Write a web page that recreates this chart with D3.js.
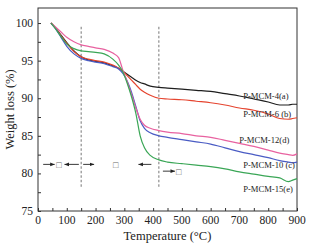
<!DOCTYPE html>
<html>
<head>
<meta charset="utf-8">
<script src="https://cdn.jsdelivr.net/npm/d3@7"></script>
<style>
  body { margin: 0; background: #fff; }
  svg text { font-family: "Liberation Serif", "Times New Roman", serif; fill: #222; }
</style>
</head>
<body>
<div id="chart"></div>
<script>
// 溫度 (°C)
const temps = [45, 60, 80, 100, 125, 150, 175, 200, 230, 260, 280, 295, 310, 325, 340, 355, 370, 390, 420, 450, 500, 550, 600, 650, 700, 750, 800, 840, 870, 885, 900];

// 各樣品失重曲線 (%)
const lossA = [100, 99.4, 98.4, 97.4, 96.3, 95.5, 95.1, 94.9, 94.7, 94.3, 94.0, 93.6, 93.2, 92.8, 92.4, 92.1, 91.9, 91.6, 91.45, 91.35, 91.2, 91.05, 90.9, 90.6, 90.3, 89.9, 89.5, 89.1, 89.1, 89.2, 89.2];
const lossB = [100, 99.4, 98.3, 97.3, 96.2, 95.5, 95.2, 95.0, 94.8, 94.4, 94.0, 93.6, 93.0, 92.4, 91.8, 91.2, 90.8, 90.4, 90.0, 89.9, 89.8, 89.6, 89.4, 89.1, 88.7, 88.4, 87.9, 87.3, 87.2, 87.3, 87.4];
const lossC = [100, 99.3, 98.1, 96.9, 95.9, 95.3, 95.0, 94.8, 94.6, 94.2, 93.9, 93.3, 92.3, 90.8, 88.9, 87.0, 86.0, 85.4, 85.0, 84.8, 84.5, 84.2, 83.9, 83.4, 82.9, 82.5, 82.1, 81.7, 81.5, 81.4, 81.5];
const lossD = [100, 99.5, 98.8, 98.1, 97.5, 97.1, 96.9, 96.7, 96.5, 96.0, 95.4, 93.7, 92.2, 90.5, 88.7, 87.2, 86.4, 86.0, 85.7, 85.5, 85.3, 85.0, 84.8, 84.4, 84.0, 83.6, 83.1, 82.7, 82.5, 82.4, 82.6];
const lossE = [100, 99.3, 98.2, 97.2, 96.6, 96.3, 96.2, 96.1, 95.9, 95.2, 94.4, 93.5, 92.0, 90.2, 88.0, 85.0, 83.4, 82.4, 81.8, 81.5, 81.3, 81.1, 80.9, 80.6, 80.2, 79.9, 79.6, 79.4, 78.9, 79.1, 79.3];

const seriesNames = ["P-MCM-4(a)", "P-MCM-6 (b)", "P-MCM-10 (c)", "P-MCM-12(d)", "P-MCM-15(e)"];
const seriesColors = ["#1e1e1e", "#e5442f", "#4a5cc4", "#e862a0", "#3aa656"];
const seriesLoss = [lossA, lossB, lossC, lossD, lossE];

// 標籤位置 (溫度, 失重)
const labelT = [713, 713, 713, 699, 713];
const labelW = [90.3, 87.9, 81.1, 84.4, 77.9];

// 分段虛線
const stageLines = [150, 420];
const xTicks = [0, 100, 200, 300, 400, 500, 600, 700, 800, 900];
const yTicks = [75, 80, 85, 90, 95, 100];

const width = 319, height = 250;
const margin = { top: 8, right: 22, bottom: 39, left: 38 };

const svg = d3.select("#chart").append("svg")
    .attr("width", width)
    .attr("height", height);

const x = d3.scaleLinear().domain([0, 900]).range([margin.left, width - margin.right]);
const y = d3.scaleLinear().domain([75, 102]).range([height - margin.bottom, margin.top]);

// 外框
svg.append("rect")
    .attr("x", margin.left).attr("y", margin.top)
    .attr("width", width - margin.left - margin.right)
    .attr("height", height - margin.top - margin.bottom)
    .attr("fill", "none").attr("stroke", "#333").attr("stroke-width", 1);

// x 軸 (刻度朝內)
const xAxis = svg.append("g")
    .attr("transform", `translate(0,${height - margin.bottom})`)
    .call(d3.axisBottom(x).tickValues(d3.range(0, 901, 50)).tickSize(-3).tickFormat(""));
xAxis.select(".domain").remove();
xAxis.selectAll("line").attr("stroke", "#333");
xAxis.selectAll("text").remove();
svg.selectAll(".xlab").data(xTicks).enter().append("text")
    .attr("x", d => x(d))
    .attr("y", height - margin.bottom + 13)
    .attr("text-anchor", "middle")
    .attr("font-size", 11.5)
    .text(d => d);

// y 軸
const yAxis = svg.append("g")
    .attr("transform", `translate(${margin.left},0)`)
    .call(d3.axisLeft(y).tickValues(d3.range(75, 101, 2.5)).tickSize(-3).tickFormat(""));
yAxis.select(".domain").remove();
yAxis.selectAll("line").attr("stroke", "#333");
svg.selectAll(".ylab").data(yTicks).enter().append("text")
    .attr("x", margin.left - 5)
    .attr("y", d => y(d) + 4)
    .attr("text-anchor", "end")
    .attr("font-size", 11.5)
    .text(d => d);

// 軸標題
svg.append("text")
    .attr("x", (margin.left + width - margin.right) / 2)
    .attr("y", height - 10)
    .attr("text-anchor", "middle")
    .attr("font-size", 12.5)
    .text("Temperature (°C)");
svg.append("text")
    .attr("transform", `translate(14,${(margin.top + height - margin.bottom) / 2}) rotate(-90)`)
    .attr("text-anchor", "middle")
    .attr("font-size", 12.5)
    .text("Weight loss (%)");

// 分段虛線
svg.selectAll(".stage").data(stageLines).enter().append("line")
    .attr("x1", d => x(d)).attr("x2", d => x(d))
    .attr("y1", y(99.5)).attr("y2", y(78))
    .attr("stroke", "#666").attr("stroke-width", 0.9)
    .attr("stroke-dasharray", "2.5,2");

// 曲線
const line = d3.line()
    .x((d, i) => x(temps[i]))
    .y(d => y(d))
    .curve(d3.curveMonotoneX);

svg.selectAll(".curve").data(seriesLoss).enter().append("path")
    .attr("d", d => line(d))
    .attr("fill", "none")
    .attr("stroke", (d, i) => seriesColors[i])
    .attr("stroke-width", 1.2);

// 曲線標籤
svg.selectAll(".slab").data(seriesNames).enter().append("text")
    .attr("x", (d, i) => x(labelT[i]))
    .attr("y", (d, i) => y(labelW[i]) + 3)
    .attr("font-size", 8.6)
    .text(d => d);

// 箭頭註記: [起點溫度, 終點溫度(箭頭), 失重]
const arrows = [[18, 58, 81.2], [142, 92, 81.2], [157, 195, 81.2], [394, 349, 81.2], [434, 476, 80.3]];
const boxes = [[73, 81.2], [270, 81.2], [489, 80.3]];

svg.append("defs").append("marker")
    .attr("id", "ah").attr("viewBox", "0 0 6 6")
    .attr("refX", 6).attr("refY", 3)
    .attr("markerWidth", 5).attr("markerHeight", 5)
    .attr("orient", "auto")
    .append("path").attr("d", "M0,0.5L6,3L0,5.5Z").attr("fill", "#222");

svg.selectAll(".arr").data(arrows).enter().append("line")
    .attr("x1", d => x(d[0])).attr("x2", d => x(d[1]))
    .attr("y1", d => y(d[2])).attr("y2", d => y(d[2]))
    .attr("stroke", "#222").attr("stroke-width", 0.9)
    .attr("marker-end", "url(#ah)");

svg.selectAll(".box").data(boxes).enter().append("text")
    .attr("x", d => x(d[0]))
    .attr("y", d => y(d[1]) + 3.5)
    .attr("text-anchor", "middle")
    .attr("font-size", 9)
    .attr("font-family", "DejaVu Sans")
    .style("fill", "#666")
    .text("□");
</script>
</body>
</html>
